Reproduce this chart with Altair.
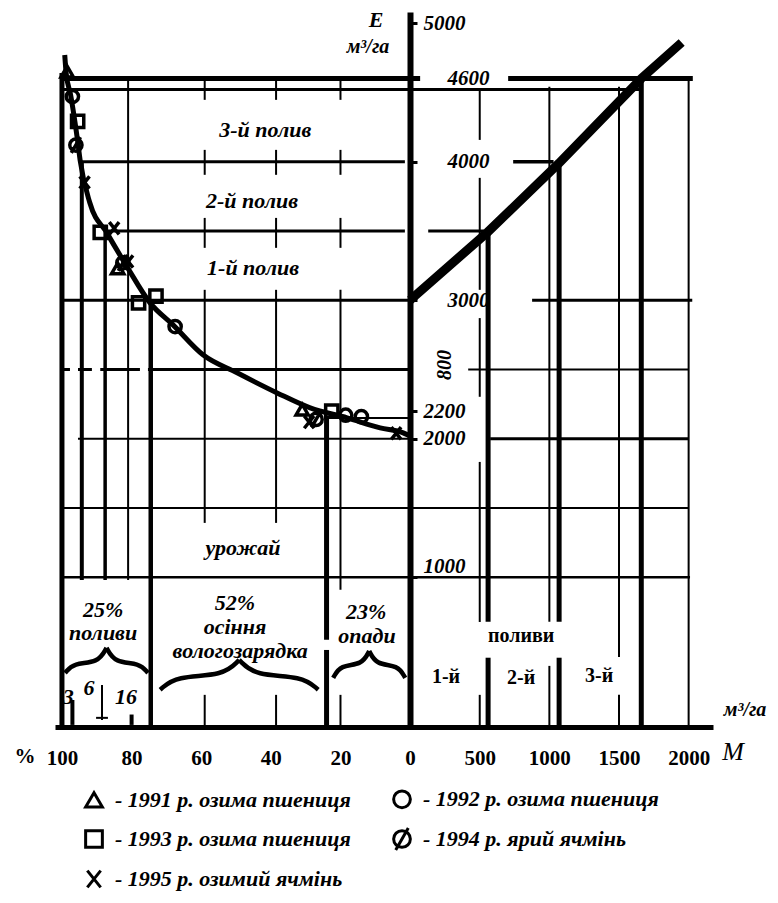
import altair as alt
import pandas as pd

K = 0.04  # drawing units per m3/ha on the right half (left half: 1 unit = 1 %)


def L(p):
    return -p


def R(m):
    return m * K


# ---- data ----
curve_pct = [99.2, 98.8, 97.5, 96.8, 95.5, 94.8, 92.0, 87.1, 81.3, 74.7, 68.1, 59.5, 49.7, 38.2, 28.7, 18.1, 8.6, 2.0, 0.0]
curve_E = [4770, 4640, 4480, 4374, 4150, 4013, 3703, 3486, 3241, 2981, 2822, 2606, 2476, 2331, 2223, 2151, 2079, 2043, 2020]

line_M = [0, 555, 1070, 1660, 1950]
line_E = [3000, 3490, 3990, 4600, 4860]

series = ["- 1991 р. озима пшениця", "- 1992 р. озима пшениця", "- 1993 р. озима пшениця",
          "- 1994 р. ярий ячмінь", "- 1995 р. озимий ячмінь"]
pct_1991 = [98.5, 84.0, 31.0]
E_1991 = [4650, 3230, 2210]
pct_1992 = [97.0, 67.5, 18.5, 14.0]
E_1992 = [4470, 2810, 2170, 2160]
pct_1993 = [95.5, 89.0, 78.0, 73.0, 22.5]
E_1993 = [4290, 3490, 2980, 3030, 2200]
pct_1994 = [96.0, 82.5, 27.0]
E_1994 = [4120, 3270, 2140]
pct_1995 = [93.5, 85.0, 81.0, 29.0, 4.0]
E_1995 = [3850, 3520, 3280, 2120, 2040]

e_ticks = [1000, 2000, 2200, 3000, 4000, 4600, 5000]
pct_ticks = [100, 80, 60, 40, 20, 0]
m_ticks = [500, 1000, 1500, 2000]

# shares of the water balance (braces): start %, end %
brace_25 = (99.1, 75.3)
brace_52 = (71.8, 26.4)
brace_23 = (22.1, 1.4)

# ---- grid segments (E, from, to, width) and (u, E1, E2, width) ----
hseg = [
    (4600, L(100), L(0), 5), (4600, R(0), R(72), 5), (4600, R(704), R(2030), 5),
    (4520, L(100), R(1660), 3),
    (4000, L(94.5), L(1.5), 3), (4000, R(740), R(1030), 3.5),
    (3500, L(88), L(1.5), 3), (3500, R(130), R(560), 3),
    (3000, L(100), L(0), 3), (3000, R(876), R(2026), 3),
    (2500, L(100), L(97.7), 3), (2500, L(95.4), L(91.4), 3), (2500, L(89), L(77.6), 3),
    (2500, L(75.3), L(0), 3), (2500, R(417), R(2000), 2),
    (2150, L(24), L(0), 2),
    (2000, L(95.4), L(0), 2), (2000, R(575), R(2000), 3),
    (1500, L(100), R(2000), 2),
    (1000, L(100), R(2010), 2.5),
    (-14, L(90.2), L(86.8), 2),
]
vseg = [
    (L(100), 4640, -80, 5),
    (L(94.3), 3990, 980, 4),
    (L(87.6), 3490, 980, 3.5),
    (L(81), 4610, 980, 2),
    (L(74.5), 2980, -80, 4.5),
    (L(24), 2160, 550, 5), (L(24), 476, -80, 5),
    (L(97), 115, -65, 4),
    (L(88.5), 224, -29, 2),
    (L(80), 10, -65, 4),
    (R(560), 3490, 680, 5), (R(560), 420, -80, 5),
    (R(1000), 4540, 680, 2), (R(1000), 361, -80, 2),
    (R(1070), 3990, 680, 5), (R(1070), 420, -80, 5),
    (R(1500), 4540, 426, 2), (R(1500), 152, -80, 2),
    (R(1660), 4605, -80, 5),
    (R(2000), 4590, -80, 2),
]
for p in (59, 38.5):
    for a, b in [(4612, 4446), (4085, 3905), (3594, 3378), (3075, 1393), (152, -80)]:
        vseg.append((L(p), a, b, 2))
for a, b in [(4612, 4446), (4085, 3905), (3594, 3378), (3075, 910), (152, -80)]:
    vseg.append((L(20), a, b, 2))
for a, b in [(4518, 4157), (3883, 3075), (2871, 2303), (1833, 678), (152, -80)]:
    vseg.append((R(500), a, b, 2))

seg_rows = [dict(u1=a, u2=b, E1=e, E2=e, w=w) for e, a, b, w in hseg]
seg_rows += [dict(u1=u, u2=u, E1=a, E2=b, w=w) for u, a, b, w in vseg]
seg_df = pd.DataFrame(seg_rows)

curve_df = pd.DataFrame({"u": [L(p) for p in curve_pct], "E": curve_E})
line_df = pd.DataFrame({"u": [R(m) for m in line_M], "E": line_E})

pts = []
for name, pp, ee in zip(series, [pct_1991, pct_1992, pct_1993, pct_1994, pct_1995],
                        [E_1991, E_1992, E_1993, E_1994, E_1995]):
    for p, e in zip(pp, ee):
        pts.append(dict(series=name, u=L(p), E=e))
pts_df = pd.DataFrame(pts)


def brace(span, Eb, d, h, bid):
    u1, u2 = L(span[0]), L(span[1])
    um, w = (u1 + u2) / 2, u2 - u1
    rows = []
    for half, pts_ in (("a", [(u1, Eb - d), (u1 + 0.1 * w, Eb), (um - 0.1 * w, Eb), (um, Eb + h)]),
                       ("b", [(um, Eb + h), (um + 0.1 * w, Eb), (u2 - 0.1 * w, Eb), (u2, Eb - d)])):
        for i, (u, e) in enumerate(pts_):
            rows.append(dict(id=bid + half, o=i, u=u, E=e))
    return rows


brace_df = pd.DataFrame(brace(brace_25, 383, 73, 108, "p") + brace(brace_52, 289, 100, 115, "o")
                        + brace(brace_23, 368, 94, 100, "r"))

FONT = "Liberation Serif"
xscale = alt.Scale(domain=[-102, 87], nice=False, zero=False)
yscale = alt.Scale(domain=[-80, 5080], nice=False, zero=False)
xaxis = alt.Axis(values=[L(p) for p in pct_ticks] + [R(m) for m in m_ticks],
                 labelExpr="datum.value <= 0 ? format(-datum.value, 'd') : format(round(datum.value * 25), 'd')",
                 domainWidth=5, domainColor="black", ticks=False, grid=False, title=None,
                 labelFont=FONT, labelFontWeight="bold", labelFontSize=21, labelColor="black",
                 labelPadding=20, labelFlush=False, labelOverlap=False)
yaxis = alt.Axis(orient="right", offset=-303, values=e_ticks, format="d",
                 domainWidth=6, domainColor="black", tickColor="black", tickWidth=3, tickSize=7,
                 grid=False, title=None, labelFont=FONT, labelFontStyle="italic", labelFontWeight="bold",
                 labelFontSize=21, labelColor="black",
                 labelPadding={"condition": {"test": "datum.value == 3000 || datum.value == 4000 || datum.value == 4600",
                                             "value": 30}, "value": 6},
                 labelOffset={"condition": {"test": "datum.value == 1000", "value": -11}, "value": 0},
                 labelOverlap=False)


def X(f):
    return alt.X(f, type="quantitative", scale=xscale, axis=xaxis)


def Y(f):
    return alt.Y(f, type="quantitative", scale=yscale, axis=yaxis)


rules = alt.Chart(seg_df).mark_rule(color="black").encode(
    x=X("u1"), x2="u2", y=Y("E1"), y2="E2", strokeWidth=alt.StrokeWidth("w:Q", scale=None))

curve = alt.Chart(curve_df).mark_line(color="black", strokeWidth=5, interpolate="monotone").encode(
    x=X("u"), y=Y("E"))
line = alt.Chart(line_df).mark_line(color="black", strokeWidth=9, strokeCap="butt").encode(
    x=X("u"), y=Y("E"))
braces = alt.Chart(brace_df).mark_line(color="black", strokeWidth=4.5, interpolate="basis").encode(
    x=X("u"), y=Y("E"), detail="id:N", order="o:Q")

shape_range = ["triangle-up", "circle", "square",
               "M0,-1A1,1,0,1,1,0,1A1,1,0,1,1,0,-1ZM0.75,-1.3L-0.75,1.3",
               "M-0.8,-1L0.8,1M-0.8,1L0.8,-1"]
points = alt.Chart(pts_df).mark_point(filled=False, color="black", strokeWidth=3.5, size=150, opacity=1).encode(
    x=X("u"), y=Y("E"),
    shape=alt.Shape("series:N", scale=alt.Scale(domain=series, range=shape_range),
                    legend=alt.Legend(orient="none", legendX=28, legendY=776, columns=2, direction="horizontal",
                                      title=None,
                                      labelFont=FONT, labelFontStyle="italic", labelFontWeight="bold",
                                      labelFontSize=22, labelColor="black", labelLimit=400,
                                      symbolSize=280, symbolStrokeWidth=3, symbolStrokeColor="black",
                                      columnPadding=36, rowPadding=8, labelOffset=10)))


def texts(items, **kw):
    df = pd.DataFrame(items, columns=["text", "u", "E"])
    return alt.Chart(df).mark_text(font=FONT, color="black", **kw).encode(x=X("u"), y=Y("E"), text="text:N")


t_main = texts([("3-й полив", -41.6, 4229), ("2-й полив", -45.4, 3717), ("1-й полив", -45.1, 3233),
                ("урожай", -48.0, 1212), ("25%", -88.2, 765), ("поливи", -88.2, 599),
                ("52%", -50.3, 815), ("осіння", -50.3, 642), ("вологозарядка", -48.8, 469),
                ("23%", -12.6, 750), ("опади", -12.4, 577),
                ("3", -98.2, 137), ("6", -92.2, 202), ("16", -81.6, 137)],
               fontSize=22, fontStyle="italic", fontWeight="bold")
t_bold = texts([("поливи", 31.9, 577), ("1-й", 10.3, 281), ("2-й", 31.9, 274), ("3-й", 54.3, 289)],
               fontSize=20, fontWeight="bold")
t_unit = texts([("м³/га", -12.1, 4828), ("м³/га", 96.2, 40)], fontSize=20, fontStyle="italic", fontWeight="bold")
t_E = texts([("E", -9.8, 5020)], fontSize=22, fontStyle="italic", fontWeight="bold")
t_pct = texts([("%", -110.6, -296)], fontSize=21, fontWeight="bold")
t_M = texts([("M", 92.8, -260)], fontSize=26, fontStyle="italic")
t_800 = texts([("800", 10.1, 2533)], fontSize=20, fontStyle="italic", fontWeight="bold", angle=270)

chart = alt.layer(rules, curve, line, braces, points, t_main, t_bold, t_unit, t_E, t_pct, t_M, t_800).properties(
    width=658, height=715,
    autosize=alt.AutoSizeParams(type="none"),
    padding={"left": 47, "top": 4, "right": 57, "bottom": 168},
).configure_view(stroke=None)

chart.save("out.html", embed_options={"renderer": "svg", "actions": False})
